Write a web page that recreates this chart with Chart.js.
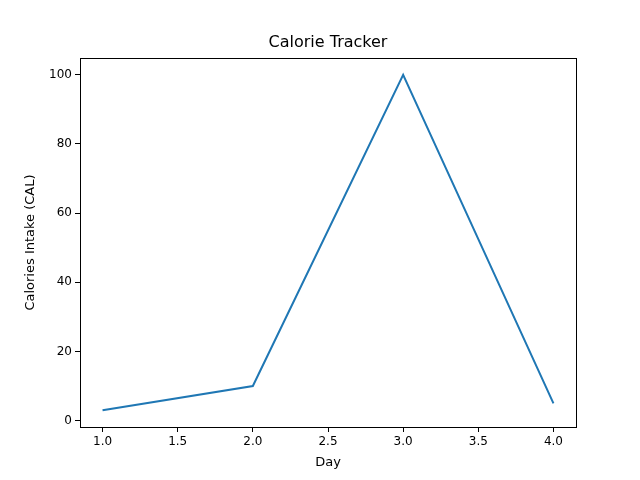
<!DOCTYPE html>
<html>
<head>
<meta charset="utf-8">
<script src="https://cdn.jsdelivr.net/npm/chart.js@4/dist/chart.umd.min.js"></script>
<style>
  body { margin: 0; background: #fff; }
  #wrap { width: 640px; height: 480px; }
</style>
</head>
<body>
<div id="wrap"><canvas id="chart" width="640" height="480"></canvas></div>
<script>
// 데이터
const days = [1, 2, 3, 4];
const calories = [3, 10, 100, 5];
const xTicks = [1.0, 1.5, 2.0, 2.5, 3.0, 3.5, 4.0];
const yTicks = [0, 20, 40, 60, 80, 100];
const titleText = 'Calorie Tracker';

const font = { family: 'DejaVu Sans', size: 12 };

// 축 상자 테두리 + 제목 (그림 영역 중앙)
const frame = {
    id: 'frame',
    afterDraw(c) {
        const a = c.chartArea, ctx = c.ctx;
        ctx.save();
        ctx.strokeStyle = '#000';
        ctx.lineWidth = 1;
        ctx.strokeRect(a.left + 0.5, a.top + 0.5, a.right - a.left, a.bottom - a.top);
        ctx.fillStyle = '#000';
        ctx.font = '16px "DejaVu Sans"';
        ctx.textAlign = 'center';
        ctx.textBaseline = 'middle';
        ctx.fillText(titleText, (a.left + a.right) / 2, 43);
        ctx.restore();
    }
};

new Chart(document.getElementById('chart'), {
    type: 'line',
    data: {
        datasets: [{
            data: days.map((d, i) => ({ x: d, y: calories[i] })),
            borderColor: '#1f77b4',
            borderWidth: 2,
            pointRadius: 0,
            tension: 0
        }]
    },
    options: {
        responsive: false,
        animation: false,
        layout: { padding: { top: 58, right: 64, left: 0, bottom: 0 } },
        plugins: {
            legend: { display: false },
            tooltip: { enabled: false },
            title: { display: false }
        },
        scales: {
            x: {
                type: 'linear',
                min: 0.85, max: 4.15,
                afterBuildTicks: s => { s.ticks = xTicks.map(v => ({ value: v })); },
                afterFit: s => { s.height = 53; },
                grid: { drawOnChartArea: false, tickLength: 5, color: '#000' },
                border: { color: '#000' },
                ticks: { color: '#000', font, callback: v => v.toFixed(1), maxRotation: 0 },
                title: { display: true, text: 'Day', color: '#000', font: { family: 'DejaVu Sans', size: 13 }, padding: { top: 0, bottom: 10 } }
            },
            y: {
                min: -1.85, max: 104.85,
                afterBuildTicks: s => { s.ticks = yTicks.map(v => ({ value: v })); },
                afterFit: s => { s.width = 80; },
                grid: { drawOnChartArea: false, tickLength: 5, color: '#000' },
                border: { color: '#000' },
                ticks: { color: '#000', font },
                title: { display: true, text: 'Calories Intake (CAL)', color: '#000', font: { family: 'DejaVu Sans', size: 13 }, padding: { top: 23, bottom: 0 } }
            }
        }
    },
    plugins: [frame]
});
</script>
</body>
</html>
